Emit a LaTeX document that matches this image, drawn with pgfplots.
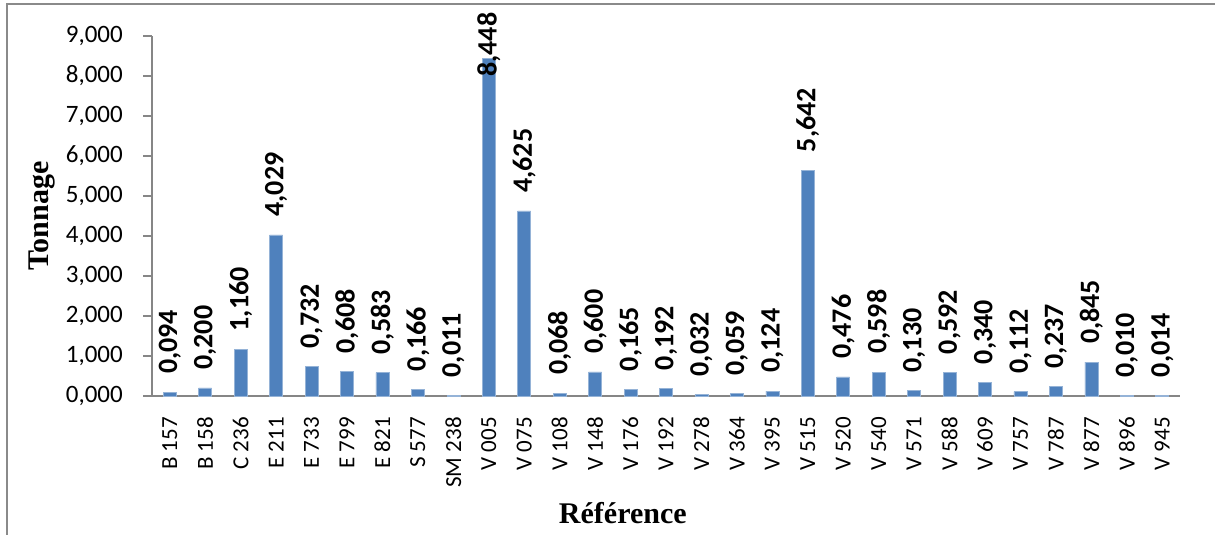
\documentclass[border=0pt]{standalone}
\usepackage{fontspec}
\setmainfont{Carlito}
\newfontfamily\titlefont{Liberation Serif}
\usepackage{pgfplots}
\usepackage{pgfplotstable}
\pgfplotsset{compat=1.18}

\definecolor{barblue}{HTML}{4F81BD}
\definecolor{axisgray}{HTML}{868686}
\definecolor{framegray}{HTML}{8A8A8A}

% idx, tonnage, offset of the value label above the bar top (pt)
\pgfplotstableread{
idx value shift
0  0.094 18
1  0.200 18
2  1.160 18
3  4.029 18
4  0.732 18
5  0.608 18
6  0.583 18
7  0.166 18
8  0.011 18
9  8.448 -19
10 4.625 18
11 0.068 18
12 0.600 18
13 0.165 18
14 0.192 18
15 0.032 18
16 0.059 18
17 0.124 18
18 5.642 18
19 0.476 18
20 0.598 18
21 0.130 18
22 0.592 18
23 0.340 18
24 0.112 18
25 0.237 18
26 0.845 18
27 0.010 18
28 0.014 18
}\tonnage

\begin{document}
\begin{tikzpicture}[x=1pt,y=1pt]
\useasboundingbox (0,0) rectangle (1215,535);
\draw[framegray, line width=1.4pt] (7,531) rectangle (1230,-20);
\begin{axis}[
  at={(152pt,139pt)}, anchor=south west,
  scale only axis, width=1028pt, height=360pt,
  xmin=-0.5, xmax=28.5, ymin=0, ymax=9,
  ybar, bar width=13pt, bar shift=0pt,
  clip=false,
  axis x line*=bottom, axis y line*=left,
  axis line style={-, axisgray, line width=1.3pt},
  tick align=outside,
  ytick={0,1,...,9},
  major tick length=9pt,
  ytick style={axisgray, line width=1.3pt},
  xtick=data,
  xtick style={draw=none},
  xticklabels={B 157,B 158,C 236,E 211,E 733,E 799,E 821,S 577,SM 238,V 005,V 075,V 108,V 148,V 176,V 192,V 278,V 364,V 395,V 515,V 520,V 540,V 571,V 588,V 609,V 757,V 787,V 877,V 896,V 945},
  xticklabel shift=12pt,
  xticklabel style={rotate=90, anchor=east, inner sep=0pt, font=\fontsize{23}{26}\selectfont},
  yticklabel={\pgfmathprintnumber[fixed,zerofill,precision=3,use comma]{\tick}},
  yticklabel shift=20pt,
  yticklabel style={inner sep=0pt, font=\fontsize{25}{28}\selectfont},
  /pgf/number format/assume math mode=true,
  ylabel={Tonnage},
  ylabel style={at={(axis description cs:-0.107,0.5)}, anchor=center, font=\titlefont\bfseries\fontsize{30}{32}\selectfont},
  xlabel={Référence},
  xlabel style={at={(axis description cs:0.458,-0.353)}, anchor=base, font=\titlefont\bfseries\fontsize{30}{32}\selectfont},
  nodes near coords={\pgfmathprintnumber[fixed,zerofill,precision=3,use comma]{\pgfplotspointmeta}},
  nodes near coords align=horizontal,
  visualization depends on={\thisrow{shift} \as \lblshift},
  every node near coord/.append style={rotate=90, anchor=west, inner sep=0pt, xshift=\lblshift pt, font=\bfseries\fontsize{28}{30}\selectfont, text=black},
]
\addplot[fill=barblue, draw=barblue!60!white, line width=0.6pt] table[x=idx, y=value] {\tonnage};
\end{axis}
\end{tikzpicture}
\end{document}
